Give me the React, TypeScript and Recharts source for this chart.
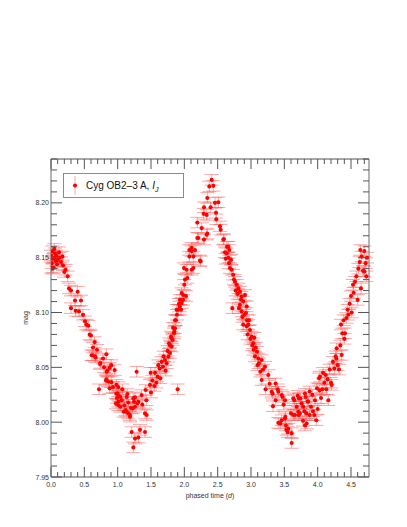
import React from 'react';
import { ScatterChart, Scatter, XAxis, YAxis, ErrorBar, Label } from 'recharts';

type P = [number, number];

// phased time (d), magnitude
const segStart: P[] = [
  [0.00, 8.152], [0.005, 8.141], [0.01, 8.145], [0.02, 8.156], [0.02, 8.140], [0.03, 8.149],
  [0.04, 8.141], [0.05, 8.150], [0.05, 8.158], [0.06, 8.154], [0.07, 8.147], [0.08, 8.152],
  [0.09, 8.144], [0.10, 8.148], [0.12, 8.155], [0.13, 8.150], [0.15, 8.146], [0.17, 8.151],
  [0.18, 8.143], [0.20, 8.137], [0.22, 8.139],
];

const segDescent1: P[] = [
  [0.25, 8.133], [0.27, 8.122], [0.30, 8.120], [0.30, 8.104], [0.36, 8.111], [0.37, 8.1015],
  [0.40, 8.119], [0.42, 8.101], [0.45, 8.111], [0.48, 8.098], [0.51, 8.092], [0.53, 8.089],
  [0.56, 8.088], [0.58, 8.080], [0.60, 8.079], [0.61, 8.061], [0.63, 8.068], [0.625, 8.061],
  [0.655, 8.073], [0.66, 8.060], [0.67, 8.059], [0.69, 8.066], [0.72, 8.030], [0.735, 8.053],
  [0.74, 8.054], [0.78, 8.058], [0.795, 8.050], [0.825, 8.038], [0.83, 8.062], [0.835, 8.046],
  [0.845, 8.047], [0.88, 8.0495], [0.905, 8.052], [0.83, 8.039], [0.86, 8.037], [0.905, 8.0365],
  [0.88, 8.031], [0.93, 8.032], [0.955, 8.0475], [0.98, 8.034], [0.98, 8.026], [0.975, 8.017],
  [0.99, 8.022],
];

const segTrough1: P[] = [
  [1.00, 8.026], [1.01, 8.032], [1.015, 8.024], [1.01, 8.0186], [1.04, 8.023], [1.04, 8.014],
  [1.06, 8.020], [1.01, 8.0155], [1.07, 8.030], [1.09, 8.0095], [1.10, 8.0155], [1.12, 8.011],
  [1.135, 8.023], [1.135, 8.0095], [1.145, 8.0256], [1.16, 8.008], [1.16, 8.018], [1.185, 8.0065],
  [1.185, 8.005], [1.20, 8.013], [1.225, 8.0125], [1.235, 8.0217], [1.245, 8.0186], [1.26, 8.014],
  [1.26, 8.0226], [1.295, 8.017], [1.31, 8.0186], [1.21, 7.991], [1.235, 7.977], [1.26, 7.985],
  [1.31, 7.986], [1.335, 7.993], [1.41, 7.991], [1.285, 8.046], [1.36, 8.0247], [1.37, 8.016],
  [1.41, 8.008], [1.42, 8.0293], [1.43, 8.020], [1.435, 8.0065], [1.485, 8.034], [1.495, 8.045],
];

const segRise1: P[] = [
  [1.50, 8.027], [1.52, 8.038], [1.55, 8.033], [1.56, 8.045], [1.58, 8.036], [1.60, 8.0415],
  [1.61, 8.052], [1.63, 8.049], [1.64, 8.040], [1.66, 8.055], [1.68, 8.0506], [1.69, 8.060],
  [1.71, 8.0567], [1.72, 8.047], [1.735, 8.0537], [1.75, 8.065], [1.76, 8.0597], [1.77, 8.072],
  [1.785, 8.063], [1.785, 8.070], [1.80, 8.078], [1.81, 8.069], [1.81, 8.0766], [1.825, 8.075],
  [1.83, 8.086], [1.845, 8.081], [1.85, 8.0826], [1.86, 8.0857], [1.86, 8.093], [1.875, 8.093],
  [1.885, 8.1025], [1.89, 8.098], [1.90, 8.030], [1.905, 8.1025], [1.92, 8.108], [1.93, 8.1055],
  [1.934, 8.1115], [1.95, 8.1025], [1.96, 8.1086], [1.96, 8.1177], [1.98, 8.1115], [1.985, 8.116],
  [1.995, 8.1405], [2.00, 8.1253], [2.01, 8.130], [2.025, 8.115], [2.035, 8.139], [2.045, 8.1315],
  [2.075, 8.151], [2.075, 8.157], [2.11, 8.139], [2.11, 8.156], [2.11, 8.159], [2.135, 8.151],
  [2.135, 8.1405], [2.16, 8.157], [2.195, 8.168], [2.195, 8.182], [2.21, 8.168], [2.235, 8.1475],
  [2.245, 8.1466], [2.26, 8.177], [2.29, 8.190], [2.295, 8.196], [2.295, 8.1665], [2.335, 8.189],
  [2.335, 8.171], [2.345, 8.2045], [2.345, 8.172], [2.375, 8.215], [2.395, 8.196], [2.41, 8.221],
  [2.435, 8.2155], [2.46, 8.200], [2.475, 8.191], [2.48, 8.185], [2.51, 8.2005], [2.535, 8.1786],
  [2.545, 8.1755], [2.585, 8.1665], [2.594, 8.167],
];

const segDescent2: P[] = [
  [2.61, 8.155], [2.62, 8.149], [2.635, 8.154], [2.64, 8.160], [2.66, 8.160], [2.66, 8.150],
  [2.67, 8.145], [2.675, 8.157], [2.684, 8.1405], [2.70, 8.148], [2.71, 8.139], [2.72, 8.104],
  [2.733, 8.1345], [2.745, 8.130], [2.76, 8.128], [2.77, 8.120], [2.785, 8.1253], [2.80, 8.117],
  [2.81, 8.122], [2.82, 8.104], [2.834, 8.107], [2.835, 8.119], [2.85, 8.112], [2.86, 8.1145],
  [2.86, 8.101], [2.87, 8.096], [2.883, 8.089], [2.885, 8.110], [2.90, 8.098], [2.91, 8.116],
  [2.925, 8.0995], [2.934, 8.0875], [2.935, 8.1055], [2.94, 8.093], [2.95, 8.080], [2.96, 8.089],
  [2.97, 8.093], [2.985, 8.084], [2.99, 8.076], [3.01, 8.078], [3.02, 8.070], [3.035, 8.072],
  [3.04, 8.066], [3.05, 8.077], [3.06, 8.060], [3.07, 8.068], [3.09, 8.0643], [3.10, 8.052],
  [3.11, 8.058], [3.12, 8.0537], [3.14, 8.046], [3.16, 8.0567], [3.16, 8.0384], [3.18, 8.048],
  [3.21, 8.0506], [3.22, 8.030], [3.26, 8.043], [3.28, 8.035],
];

const segTrough2: P[] = [
  [3.31, 8.0277], [3.325, 8.026], [3.33, 8.0146], [3.37, 8.0353], [3.37, 8.020], [3.40, 8.030],
  [3.41, 8.0277], [3.41, 7.9994], [3.44, 7.9988], [3.46, 8.0247], [3.46, 8.0018], [3.474, 8.023],
  [3.49, 8.016], [3.51, 8.020], [3.51, 8.0034], [3.515, 8.005], [3.524, 7.997], [3.53, 7.993],
  [3.55, 7.991], [3.56, 7.994], [3.60, 8.008], [3.61, 7.981], [3.61, 7.990], [3.634, 8.0065],
  [3.634, 8.0217], [3.65, 8.020], [3.66, 8.0065], [3.684, 8.014], [3.70, 8.024], [3.71, 8.0095],
  [3.715, 8.0065], [3.72, 8.0217], [3.733, 8.008], [3.74, 8.0217], [3.76, 8.017], [3.78, 8.0012],
  [3.784, 8.014], [3.80, 8.010], [3.81, 7.997], [3.81, 8.026], [3.82, 8.023], [3.83, 8.008],
  [3.835, 7.9988], [3.85, 8.019], [3.86, 8.0186], [3.88, 8.0065], [3.88, 8.028], [3.90, 8.014],
  [3.92, 8.025], [3.93, 8.010], [3.95, 8.0065], [3.96, 8.020], [3.98, 8.0018], [3.99, 8.031],
  [4.00, 8.012],
];

const segRise2: P[] = [
  [4.02, 8.040], [4.03, 8.029], [4.035, 8.0415], [4.05, 8.022], [4.07, 8.030], [4.08, 8.045],
  [4.10, 8.036], [4.12, 8.043], [4.13, 8.030], [4.15, 8.039], [4.16, 8.020], [4.18, 8.048],
  [4.20, 8.036], [4.21, 8.034], [4.23, 8.055], [4.25, 8.049], [4.27, 8.060], [4.28, 8.058],
  [4.285, 8.0674], [4.30, 8.052], [4.32, 8.048], [4.34, 8.070], [4.35, 8.089], [4.36, 8.0613],
  [4.37, 8.081], [4.39, 8.093], [4.40, 8.076], [4.41, 8.081], [4.43, 8.095], [4.45, 8.1025],
  [4.46, 8.098], [4.48, 8.108], [4.50, 8.115], [4.51, 8.100], [4.53, 8.1253], [4.54, 8.118],
  [4.56, 8.128], [4.58, 8.133], [4.60, 8.1115], [4.61, 8.140], [4.63, 8.146], [4.64, 8.157],
  [4.65, 8.122], [4.66, 8.151], [4.68, 8.138], [4.70, 8.1375], [4.70, 8.156], [4.72, 8.145],
  [4.74, 8.150], [4.73, 8.133],
];

const MAG_ERR = 0.0048;

const X_DOMAIN: [number, number] = [0, 4.77];
const Y_DOMAIN: [number, number] = [7.95, 8.24];
const X_TICKS: number[] = Array.from({ length: 48 }, (_, i) => i / 10);
const Y_TICKS: number[] = Array.from({ length: 30 }, (_, i) => (795 + i) / 100);

const LEGEND_NAME = 'Cyg OB2–3 A, ';
const X_TITLE = 'phased time (';
const Y_TITLE = 'mag';

const data = [
  ...segStart, ...segDescent1, ...segTrough1, ...segRise1,
  ...segDescent2, ...segTrough2, ...segRise2,
].map(([x, y]) => ({ x, y, err: MAG_ERR }));

const FONT = '"Liberation Sans", Arial, Helvetica, sans-serif';
const AXIS_COLOR = '#8a8a8a';
const TICK_COLOR = '#555';
const LABEL_COLOR = '#333';
const DOT = '#ff0000';
const ERR_COLOR = 'rgba(255,80,80,0.5)';

const isMajorX = (v: number) => Math.round(v * 10) % 5 === 0;
const isMajorY = (v: number) => Math.round(v * 100) % 5 === 0;

const BottomTick = (props: any) => {
  const { x, y, payload } = props;
  const v = payload.value;
  const maj = isMajorX(v);
  return (
    <g>
      <line x1={x} x2={x} y1={y} y2={y - (maj ? 10 : 5)} stroke={TICK_COLOR} strokeWidth={1} />
      {maj && (
        <text x={x} y={y + 10} textAnchor="middle" fontSize={7} fill={LABEL_COLOR} fontFamily={FONT}>
          {v.toFixed(1)}
        </text>
      )}
    </g>
  );
};

const TopTick = (props: any) => {
  const { x, y, payload } = props;
  const maj = isMajorX(payload.value);
  return <line x1={x} x2={x} y1={y} y2={y + (maj ? 10 : 5)} stroke={TICK_COLOR} strokeWidth={1} />;
};

const LeftTick = (props: any) => {
  const { x, y, payload } = props;
  const v = payload.value;
  const maj = isMajorY(v);
  return (
    <g>
      <line x1={x} x2={x + (maj ? 11 : 6)} y1={y} y2={y} stroke={TICK_COLOR} strokeWidth={1} />
      {maj && (
        <text x={x - 2} y={y + 2.5} textAnchor="end" fontSize={7} fill={LABEL_COLOR} fontFamily={FONT}>
          {v.toFixed(2)}
        </text>
      )}
    </g>
  );
};

const RightTick = (props: any) => {
  const { x, y, payload } = props;
  const maj = isMajorY(payload.value);
  return <line x1={x} x2={x - (maj ? 11 : 6)} y1={y} y2={y} stroke={TICK_COLOR} strokeWidth={1} />;
};

const XTitle = (props: any) => {
  const vb = props.viewBox || {};
  const cx = vb.x + vb.width / 2;
  const cy = vb.y + 20.5;
  return (
    <text x={cx} y={cy} textAnchor="middle" fontSize={7} fill={LABEL_COLOR} fontFamily={FONT}>
      {X_TITLE}
      <tspan fontStyle="italic">d</tspan>)
    </text>
  );
};

const YTitle = (props: any) => {
  const vb = props.viewBox || {};
  const cx = vb.x + 4;
  const cy = vb.y + vb.height / 2;
  return (
    <text
      x={cx}
      y={cy}
      transform={`rotate(-90 ${cx} ${cy})`}
      textAnchor="middle"
      dominantBaseline="central"
      fontSize={7}
      fill={LABEL_COLOR}
      fontFamily={FONT}
    >
      {Y_TITLE}
    </text>
  );
};

const Dot = (props: any) => <circle cx={props.cx} cy={props.cy} r={2.05} fill={DOT} />;

export default function App() {
  return (
    <div style={{ position: 'relative', width: 399, height: 519 }}>
      <ScatterChart width={399} height={519} margin={{ top: 141, right: 28, bottom: 20, left: 13 }}>
        <XAxis
          xAxisId="bottom"
          dataKey="x"
          type="number"
          domain={X_DOMAIN}
          ticks={X_TICKS}
          interval={0}
          height={30}
          tickSize={0}
          tickMargin={0}
          tickLine={false}
          tick={<BottomTick />}
          axisLine={{ stroke: AXIS_COLOR, strokeWidth: 1.3 }}
          allowDataOverflow
        >
          <Label content={<XTitle />} />
        </XAxis>
        <XAxis
          xAxisId="top"
          orientation="top"
          dataKey="x"
          type="number"
          domain={X_DOMAIN}
          ticks={X_TICKS}
          interval={0}
          height={10}
          tickSize={0}
          tickMargin={0}
          tickLine={false}
          tick={<TopTick />}
          axisLine={{ stroke: AXIS_COLOR, strokeWidth: 1.3 }}
          allowDataOverflow
        />
        <YAxis
          yAxisId="left"
          dataKey="y"
          type="number"
          domain={Y_DOMAIN}
          ticks={Y_TICKS}
          interval={0}
          width={30}
          tickSize={0}
          tickMargin={0}
          tickLine={false}
          tick={<LeftTick />}
          axisLine={{ stroke: AXIS_COLOR, strokeWidth: 1.3 }}
          allowDataOverflow
        >
          <Label content={<YTitle />} />
        </YAxis>
        <YAxis
          yAxisId="right"
          orientation="right"
          dataKey="y"
          type="number"
          domain={Y_DOMAIN}
          ticks={Y_TICKS}
          interval={0}
          width={10}
          tickSize={0}
          tickMargin={0}
          tickLine={false}
          tick={<RightTick />}
          axisLine={{ stroke: AXIS_COLOR, strokeWidth: 1.3 }}
          allowDataOverflow
        />
        <Scatter
          data={data}
          xAxisId="bottom"
          yAxisId="left"
          shape={<Dot />}
          isAnimationActive={false}
        >
          <ErrorBar dataKey="err" direction="y" width={7} stroke={ERR_COLOR} strokeWidth={1} isAnimationActive={false} />
        </Scatter>
      </ScatterChart>
      <div
        style={{
          position: 'absolute',
          left: 55,
          top: 165,
          width: 121,
          height: 25,
          border: '1px solid #8a8a8a',
          boxSizing: 'border-box',
          background: '#fff',
          display: 'flex',
          alignItems: 'center',
          fontFamily: FONT,
          fontSize: 10,
          color: '#111',
          whiteSpace: 'nowrap',
        }}
      >
        <svg width={22} height={23} style={{ flex: 'none' }}>
          <line x1={11} x2={11} y1={2} y2={21} stroke={ERR_COLOR} strokeWidth={1} />
          <circle cx={11} cy={11.5} r={2.05} fill={DOT} />
        </svg>
        <span>
          {LEGEND_NAME}
          <i>I</i>
          <span style={{ fontSize: 7, fontStyle: 'italic', position: 'relative', top: 3 }}>J</span>
        </span>
      </div>
    </div>
  );
}
